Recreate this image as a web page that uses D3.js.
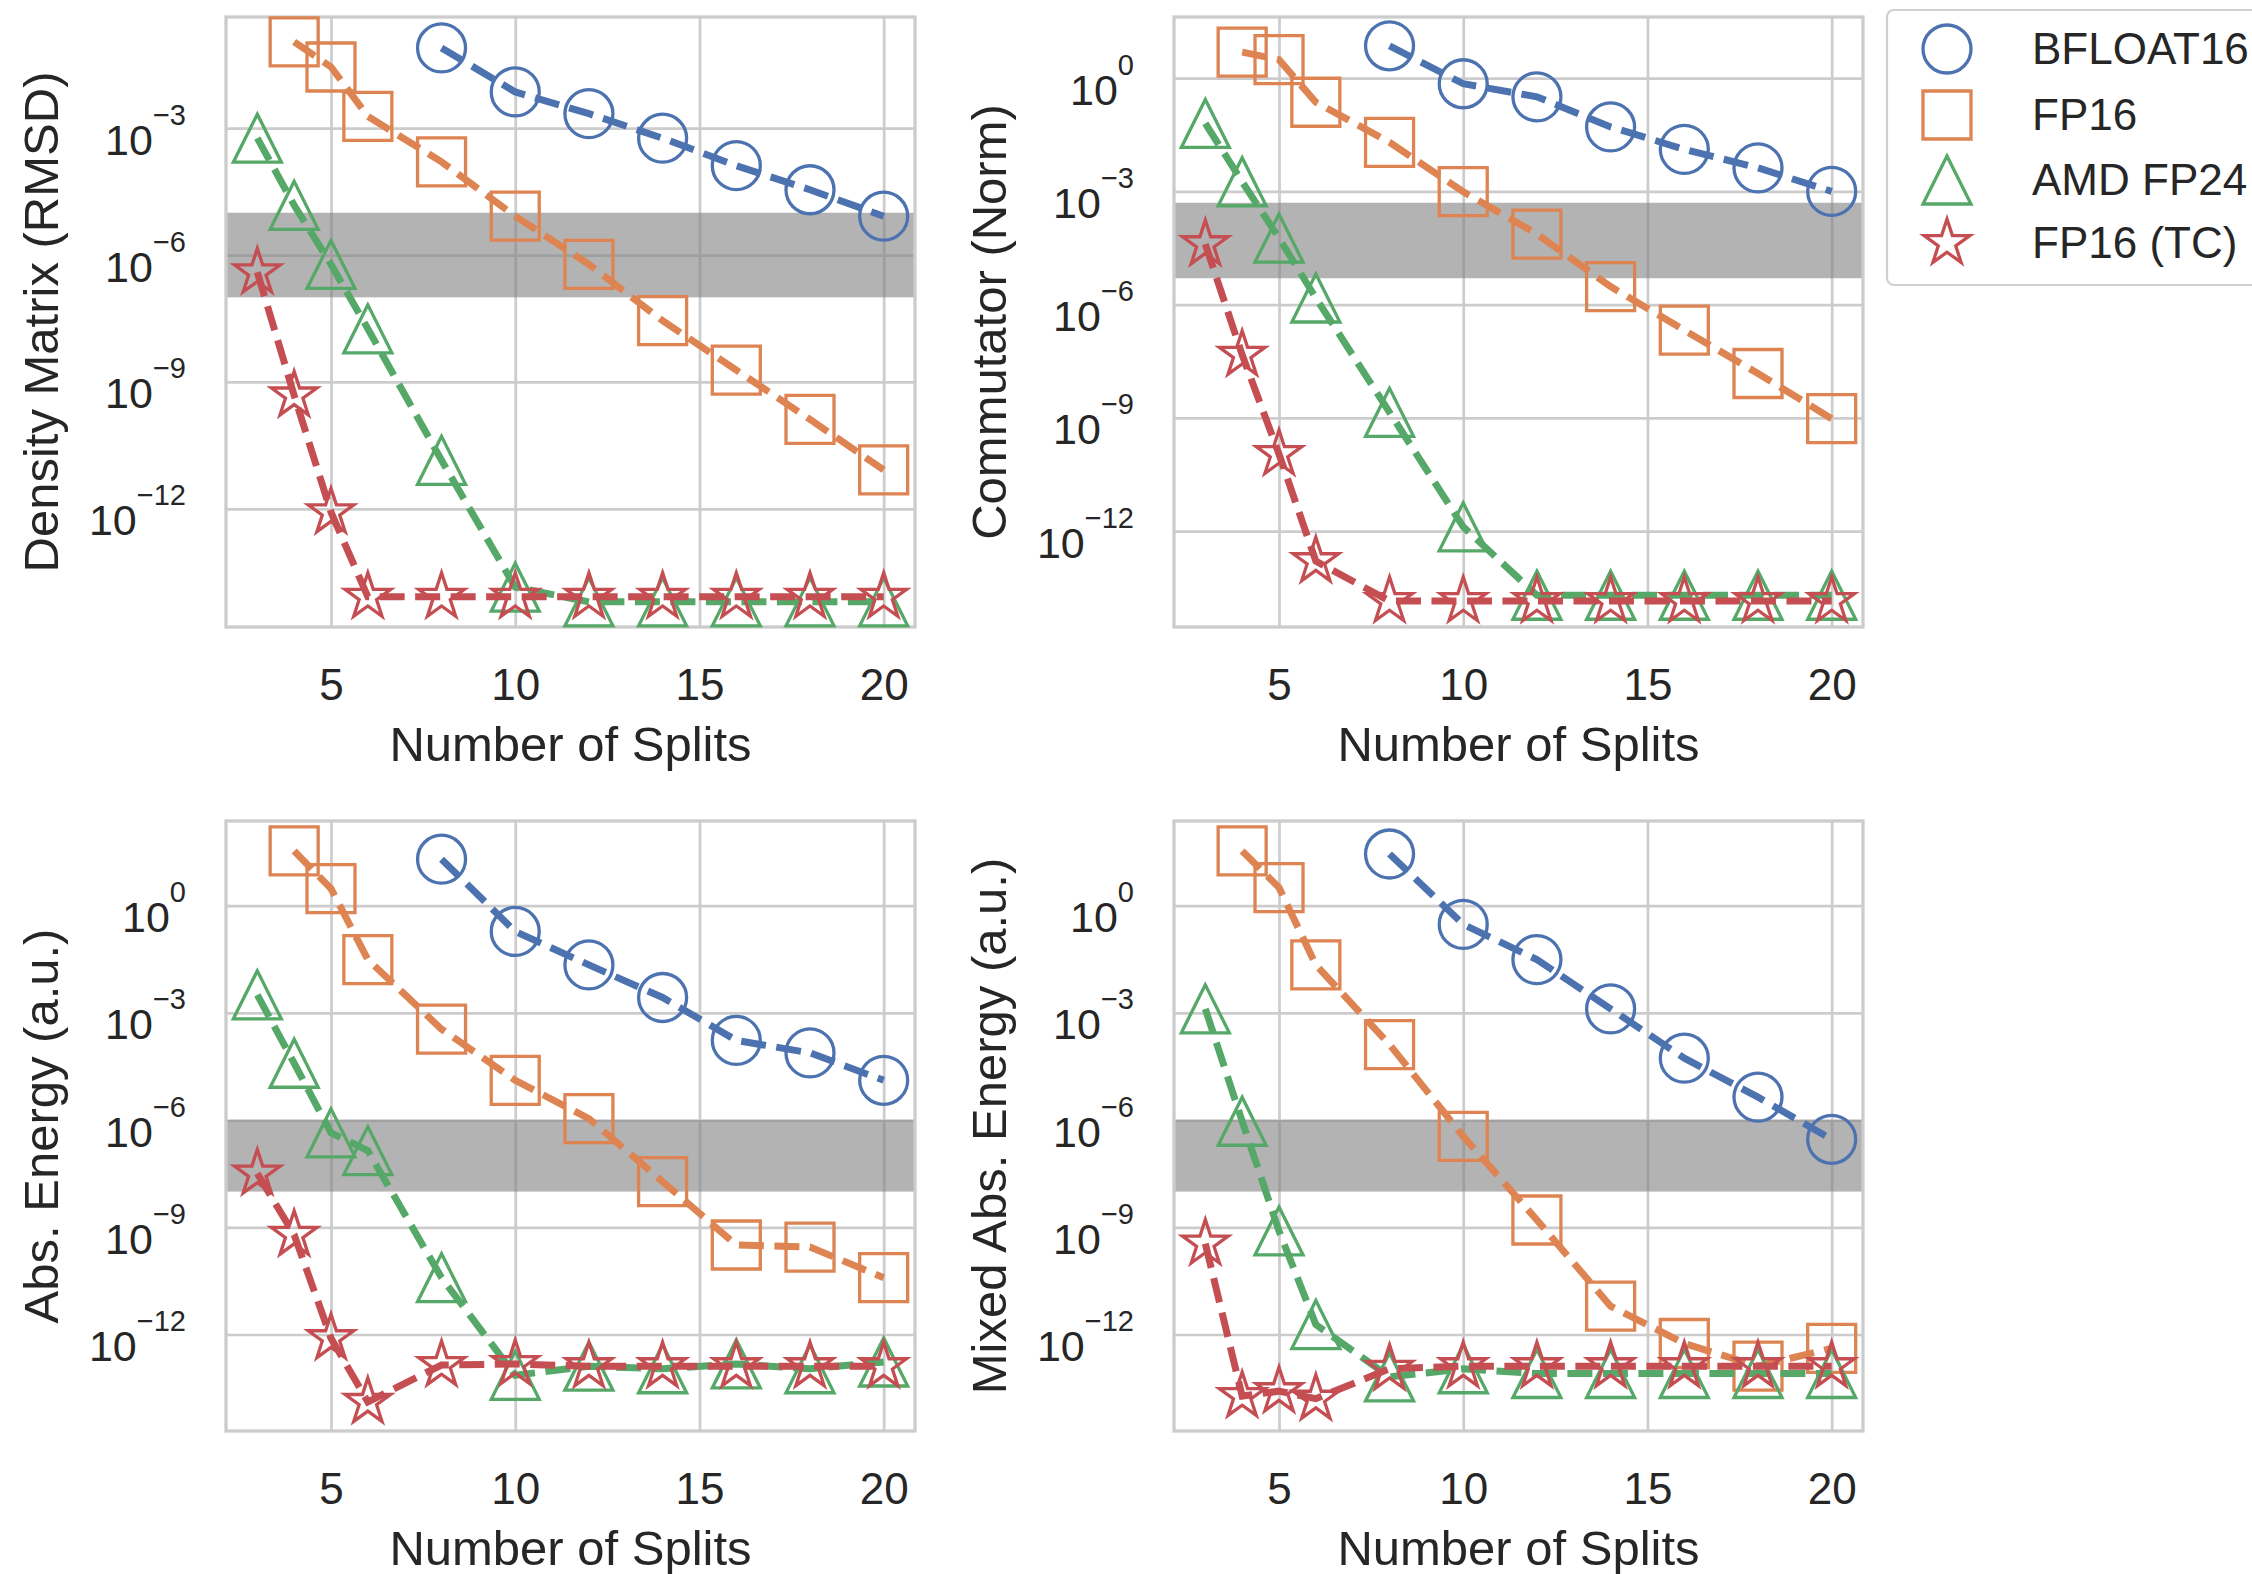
<!DOCTYPE html>
<html>
<head>
<meta charset="utf-8">
<script src="https://cdnjs.cloudflare.com/ajax/libs/d3/7.8.5/d3.min.js"></script>
<style>
  body { margin: 0; background: #fff; }
  svg { display: block; font-family: "Liberation Sans", Arial, sans-serif; }
  text { fill: #262626; }
</style>
</head>
<body>
<script>
// number of splits for each precision
var splitsBF16 = [8, 10, 12, 14, 16, 18, 20];
var splitsFP16 = [4, 5, 6, 8, 10, 12, 14, 16, 18, 20];
var splitsFP24 = [3, 4, 5, 6, 8, 10, 12, 14, 16, 18, 20];
var splitsTC = [3, 4, 5, 6, 8, 10, 12, 14, 16, 18, 20];

// density matrix (RMSD)
var densityBF16 = [7.9e-2, 7.2e-3, 2.2e-3, 5.8e-4, 1.3e-4, 3.5e-5, 8.3e-6];
var densityFP16 = [1.1e-1, 2.8e-2, 1.9e-3, 1.6e-4, 8.3e-6, 6.0e-7, 2.8e-8, 1.9e-9, 1.3e-10, 8.3e-12];
var densityFP24 = [5.8e-4, 1.5e-5, 6.0e-7, 1.8e-8, 1.4e-11, 1.4e-14, 6.3e-15, 6.3e-15, 6.3e-15, 6.3e-15, 6.3e-15];
var densityTC = [3.9e-7, 4.8e-10, 8.3e-13, 8.3e-15, 8.3e-15, 8.3e-15, 8.3e-15, 8.3e-15, 8.3e-15, 8.3e-15, 8.3e-15];

// commutator (norm)
var commBF16 = [7.2, 0.71, 0.32, 5.1e-2, 1.3e-2, 4.2e-3, 1.0e-3];
var commFP16 = [4.9, 3.1, 0.23, 2.0e-2, 9.8e-4, 7.4e-5, 3.0e-6, 2.1e-7, 1.5e-8, 9.5e-10];
var commFP24 = [6.3e-2, 1.8e-3, 5.8e-5, 1.5e-6, 1.4e-9, 1.3e-12, 2.0e-14, 2.0e-14, 2.0e-14, 2.0e-14, 2.0e-14];
var commTC = [4.0e-5, 4.7e-8, 1.1e-10, 1.6e-13, 1.4e-14, 1.4e-14, 1.4e-14, 1.4e-14, 1.4e-14, 1.4e-14, 1.4e-14];

// abs. energy (a.u.)
var absBF16 = [20, 0.19, 2.2e-2, 2.7e-3, 1.7e-4, 7.6e-5, 1.3e-5];
var absFP16 = [34, 3.0, 3.1e-2, 3.5e-4, 1.3e-5, 1.1e-6, 1.9e-8, 3.2e-10, 2.8e-10, 3.9e-11];
var absFP24 = [3.2e-3, 3.9e-5, 4.4e-7, 1.4e-7, 3.9e-11, 7.2e-14, 1.3e-13, 1.1e-13, 1.5e-13, 1.1e-13, 1.7e-13];
var absTC = [3.2e-8, 6.2e-10, 7.9e-13, 1.3e-14, 1.4e-13, 1.5e-13, 1.3e-13, 1.3e-13, 1.3e-13, 1.3e-13, 1.3e-13];

// mixed abs. energy (a.u.)
var mixedBF16 = [28, 0.30, 3.1e-2, 1.3e-3, 5.4e-5, 4.4e-6, 2.9e-7];
var mixedFP16 = [34, 3.2, 2.2e-2, 1.3e-4, 3.5e-7, 1.6e-9, 6.2e-12, 5.6e-13, 1.3e-13, 4.1e-13];
var mixedFP24 = [1.3e-3, 9.3e-7, 7.9e-10, 1.9e-12, 6.5e-14, 1.1e-13, 8.1e-14, 8.1e-14, 8.1e-14, 8.1e-14, 8.1e-14];
var mixedTC = [3.5e-10, 1.9e-14, 2.6e-14, 1.6e-14, 1.1e-13, 1.3e-13, 1.3e-13, 1.3e-13, 1.3e-13, 1.3e-13, 1.3e-13];

var seriesNames = ['BFLOAT16', 'FP16', 'AMD FP24', 'FP16 (TC)'];
var xTickValues = [5, 10, 15, 20];
var yTicksTop = [1e-3, 1e-6, 1e-9, 1e-12];
var yTicksRest = [1e0, 1e-3, 1e-6, 1e-9, 1e-12];

var COLORS = ['#4C72B0', '#DD8452', '#55A868', '#C44E52'];
var MARKERS = ['circle', 'square', 'triangle', 'star'];
var SPLITS = [splitsBF16, splitsFP16, splitsFP24, splitsTC];

var plotWidth = 689;
var plotHeight = 610;
var markerSize = 48;

var panels = [
  { left: 226, top: 17, label: 'Density Matrix (RMSD)', logDomain: [-14.795, -0.371],
    ticks: yTicksTop, band: [1e-7, 1e-5], values: [densityBF16, densityFP16, densityFP24, densityTC] },
  { left: 1174, top: 17, label: 'Commutator (Norm)', logDomain: [-14.54, 1.62],
    ticks: yTicksRest, band: [5e-6, 5e-4], values: [commBF16, commFP16, commFP24, commTC] },
  { left: 226, top: 821, label: 'Abs. Energy (a.u.)', logDomain: [-14.7, 2.37],
    ticks: yTicksRest, band: [1e-8, 1e-6], values: [absBF16, absFP16, absFP24, absTC] },
  { left: 1174, top: 821, label: 'Mixed Abs. Energy (a.u.)', logDomain: [-14.7, 2.37],
    ticks: yTicksRest, band: [1e-8, 1e-6], values: [mixedBF16, mixedFP16, mixedFP24, mixedTC] }
];

var svg = d3.select('body').append('svg')
  .attr('width', 2252)
  .attr('height', 1574);

// path for a marker centred on 0,0
function markerPath(type, size) {
  var r = size / 2;
  if (type === 'circle') {
    return 'M' + r + ',0A' + r + ',' + r + ' 0 1,1 ' + (-r) + ',0A' + r + ',' + r + ' 0 1,1 ' + r + ',0Z';
  }
  if (type === 'square') {
    return 'M' + (-r) + ',' + (-r) + 'H' + r + 'V' + r + 'H' + (-r) + 'Z';
  }
  if (type === 'triangle') {
    return 'M0,' + (-r) + 'L' + (-r) + ',' + r + 'L' + r + ',' + r + 'Z';
  }
  // five point star like matplotlib '*'
  var inner = r * 0.381966;
  var pts = [];
  for (var i = 0; i < 10; i++) {
    var a = -Math.PI / 2 + i * Math.PI / 5;
    var rr = i % 2 === 0 ? r : inner;
    pts.push([rr * Math.cos(a), rr * Math.sin(a)]);
  }
  return 'M' + pts.map(function(p) { return p[0].toFixed(2) + ',' + p[1].toFixed(2); }).join('L') + 'Z';
}

function superscript(v) {
  var e = Math.round(Math.log10(v));
  return e < 0 ? '\u2212' + Math.abs(e) : String(e);
}

function drawPanel(p) {
  var g = svg.append('g');
  var bottom = p.top + plotHeight;

  var xScale = d3.scaleLinear()
    .domain([2.15, 20.85])
    .range([p.left, p.left + plotWidth]);

  var yScale = d3.scaleLog()
    .domain([Math.pow(10, p.logDomain[0]), Math.pow(10, p.logDomain[1])])
    .range([bottom, p.top]);

  // grid lines
  var xGrid = d3.axisBottom(xScale)
    .tickValues(xTickValues)
    .tickSize(-plotHeight)
    .tickFormat('');
  g.append('g')
    .attr('transform', 'translate(0,' + bottom + ')')
    .call(xGrid)
    .call(function(s) { s.select('.domain').remove(); })
    .selectAll('line')
    .attr('stroke', '#cccccc')
    .attr('stroke-width', 2.7);

  var yGrid = d3.axisLeft(yScale)
    .tickValues(p.ticks)
    .tickSize(-plotWidth)
    .tickFormat('');
  g.append('g')
    .attr('transform', 'translate(' + p.left + ',0)')
    .call(yGrid)
    .call(function(s) { s.select('.domain').remove(); })
    .selectAll('line')
    .attr('stroke', '#cccccc')
    .attr('stroke-width', 2.7);

  // grey tolerance band
  g.append('rect')
    .attr('x', p.left)
    .attr('width', plotWidth)
    .attr('y', yScale(p.band[1]))
    .attr('height', yScale(p.band[0]) - yScale(p.band[1]))
    .attr('fill', '#808080')
    .attr('fill-opacity', 0.6);

  // spines
  g.append('rect')
    .attr('x', p.left)
    .attr('y', p.top)
    .attr('width', plotWidth)
    .attr('height', plotHeight)
    .attr('fill', 'none')
    .attr('stroke', '#cccccc')
    .attr('stroke-width', 3.3);

  // x tick labels
  var xAxis = d3.axisBottom(xScale)
    .tickValues(xTickValues)
    .tickSize(0)
    .tickFormat(d3.format('d'));
  var xa = g.append('g')
    .attr('transform', 'translate(0,' + bottom + ')')
    .call(xAxis);
  xa.select('.domain').remove();
  xa.selectAll('text')
    .attr('y', 73)
    .attr('dy', null)
    .attr('fill', '#262626')
    .style('font-size', '44px');

  // y tick labels as 10 with superscript
  var yAxis = d3.axisLeft(yScale)
    .tickValues(p.ticks)
    .tickSize(0)
    .tickFormat('');
  var ya = g.append('g')
    .attr('transform', 'translate(' + p.left + ',0)')
    .call(yAxis);
  ya.select('.domain').remove();
  ya.selectAll('text')
    .attr('x', -40)
    .attr('y', 26)
    .attr('dy', null)
    .attr('fill', '#262626')
    .attr('text-anchor', 'end')
    .style('font-size', '43px')
    .each(function(d) {
      var t = d3.select(this);
      t.append('tspan').text('10');
      t.append('tspan')
        .attr('dy', -30)
        .style('font-size', '29px')
        .text(superscript(d));
    });

  // axis labels
  g.append('text')
    .attr('x', p.left + plotWidth / 2)
    .attr('y', bottom + 134)
    .attr('text-anchor', 'middle')
    .style('font-size', '49px')
    .text('Number of Splits');

  g.append('text')
    .attr('transform', 'translate(' + (p.left - 168) + ',' + (p.top + plotHeight / 2) + ') rotate(-90)')
    .attr('text-anchor', 'middle')
    .style('font-size', '49px')
    .text(p.label);

  // dashed lines with hollow markers, one series after another
  var line = d3.line()
    .x(function(d) { return xScale(d[0]); })
    .y(function(d) { return yScale(d[1]); });

  p.values.forEach(function(vals, i) {
    var pts = SPLITS[i].map(function(s, k) { return [s, vals[k]]; });
    g.append('path')
      .datum(pts)
      .attr('d', line)
      .attr('fill', 'none')
      .attr('stroke', COLORS[i])
      .attr('stroke-width', 7)
      .attr('stroke-dasharray', '25,10.5');

    g.selectAll('.m' + i)
      .data(pts)
      .enter()
      .append('path')
      .attr('class', 'm' + i)
      .attr('transform', function(d) { return 'translate(' + xScale(d[0]) + ',' + yScale(d[1]) + ')'; })
      .attr('d', markerPath(MARKERS[i], markerSize))
      .attr('fill', 'none')
      .attr('stroke', COLORS[i])
      .attr('stroke-width', 3.3)
      .attr('stroke-linejoin', 'miter');
  });
}

panels.forEach(drawPanel);

// legend, partly running off the right edge
var legend = svg.append('g');
legend.append('rect')
  .attr('x', 1887)
  .attr('y', 10)
  .attr('width', 420)
  .attr('height', 275)
  .attr('rx', 7)
  .attr('fill', '#ffffff')
  .attr('fill-opacity', 0.8)
  .attr('stroke', '#d0d0d0')
  .attr('stroke-width', 2.2);

var legendRows = [49, 115, 180, 243];
seriesNames.forEach(function(name, i) {
  legend.append('path')
    .attr('transform', 'translate(1947,' + legendRows[i] + ')')
    .attr('d', markerPath(MARKERS[i], markerSize))
    .attr('fill', 'none')
    .attr('stroke', COLORS[i])
    .attr('stroke-width', 3.3);
  legend.append('text')
    .attr('x', 2032)
    .attr('y', legendRows[i] + 15)
    .style('font-size', '44px')
    .text(name);
});
</script>
</body>
</html>
